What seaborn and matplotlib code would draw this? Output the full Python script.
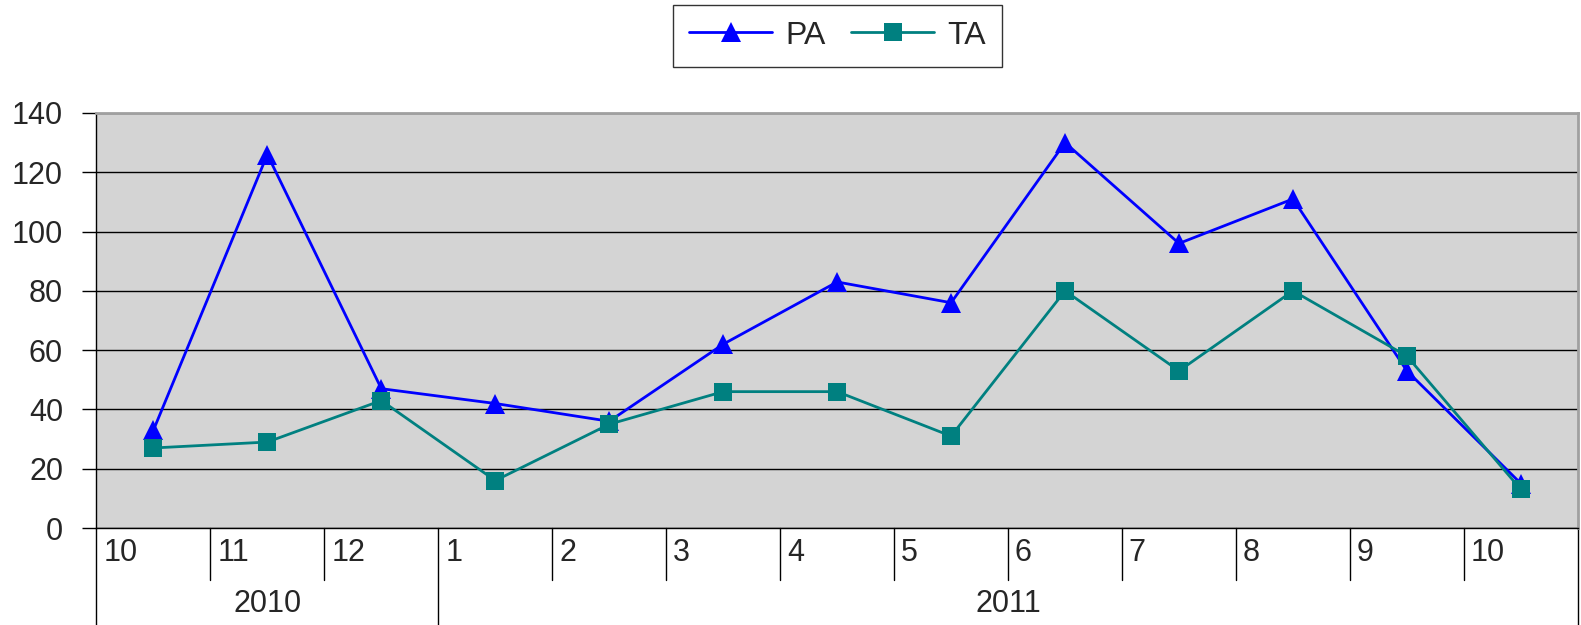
import numpy as np
import pandas as pd
import matplotlib
matplotlib.use("Agg")
import matplotlib.pyplot as plt
import matplotlib.transforms as mtransforms
from matplotlib.lines import Line2D
import seaborn as sns

# dados
months = ["10", "11", "12", "1", "2", "3", "4", "5", "6", "7", "8", "9", "10"]
years = ["2010", "2011"]
year_spans = [(0, 3), (3, 13)]  # indices [inicio, fim) de cada ano
pa = [33, 126, 47, 42, 36, 62, 83, 76, 130, 96, 111, 53, 15]
ta = [27, 29, 43, 16, 35, 46, 46, 31, 80, 53, 80, 58, 13]

sns.set_style("white")
plt.rcParams['font.family'] = ['Liberation Sans', 'DejaVu Sans']

fs = 22
fig = plt.figure(figsize=(15.81, 6.25), dpi=100)
ax = fig.add_axes([0.061, 0.1552, 0.937, 0.664])
ax.set_facecolor("#d4d4d4")

x = np.arange(len(months))
df = pd.DataFrame({"x": x, "PA": pa, "TA": ta})

sns.lineplot(data=df, x="x", y="PA", ax=ax, color="#0000ff", lw=2,
             marker="^", markersize=14, markeredgewidth=0, zorder=3)
sns.lineplot(data=df, x="x", y="TA", ax=ax, color="#008080", lw=2,
             marker="s", markersize=13.5, markeredgewidth=0, zorder=3)

ax.set_xlim(-0.5, len(months) - 0.5)
ax.set_ylim(0, 140)
ax.set_yticks(range(0, 141, 20))
ax.yaxis.grid(True, color="black", lw=1)
ax.set_axisbelow(True)
ax.tick_params(axis="y", labelsize=fs, length=10, width=1, color="black", pad=14, left=True)
ax.set_xticks([])
ax.set_xlabel("")
ax.set_ylabel("")

for side in ["left", "bottom"]:
    ax.spines[side].set_color("black")
    ax.spines[side].set_linewidth(1)
for side in ["top", "right"]:
    ax.spines[side].set_color("#a0a0a0")
    ax.spines[side].set_linewidth(2)

# eixo de categorias em dois níveis
trans = mtransforms.blended_transform_factory(ax.transData, ax.transAxes)
ax_h = 0.664 * 625
month_depth = 52 / ax_h
year_depth = 100 / ax_h
year_starts = [s for s, e in year_spans] + [len(months)]
for i in range(len(months) + 1):
    depth = year_depth if i in year_starts else month_depth
    ax.plot([i - 0.5, i - 0.5], [0, -depth], color="black", lw=1,
            transform=trans, clip_on=False)
for i, m in enumerate(months):
    ax.text(i - 0.44, -25 / ax_h, m, transform=trans, fontsize=fs,
            ha="left", va="center")
for yr, (s, e) in zip(years, year_spans):
    ax.text((s + e - 1) / 2, -76 / ax_h, yr, transform=trans, fontsize=fs,
            ha="center", va="center")

handles = [
    Line2D([], [], color="#0000ff", lw=2, marker="^", markersize=14, markeredgewidth=0),
    Line2D([], [], color="#008080", lw=2, marker="s", markersize=13.5, markeredgewidth=0),
]
leg = fig.legend(handles, ["PA", "TA"], loc="center", bbox_to_anchor=(0.5297, 0.943),
                 ncol=2, fontsize=fs + 1, frameon=True, fancybox=False,
                 handlelength=2.6, columnspacing=0.8, borderpad=0.5, handletextpad=0.4)
leg.get_frame().set_edgecolor("black")
leg.get_frame().set_linewidth(1)

fig.savefig("out.png", dpi=100, facecolor="white")
